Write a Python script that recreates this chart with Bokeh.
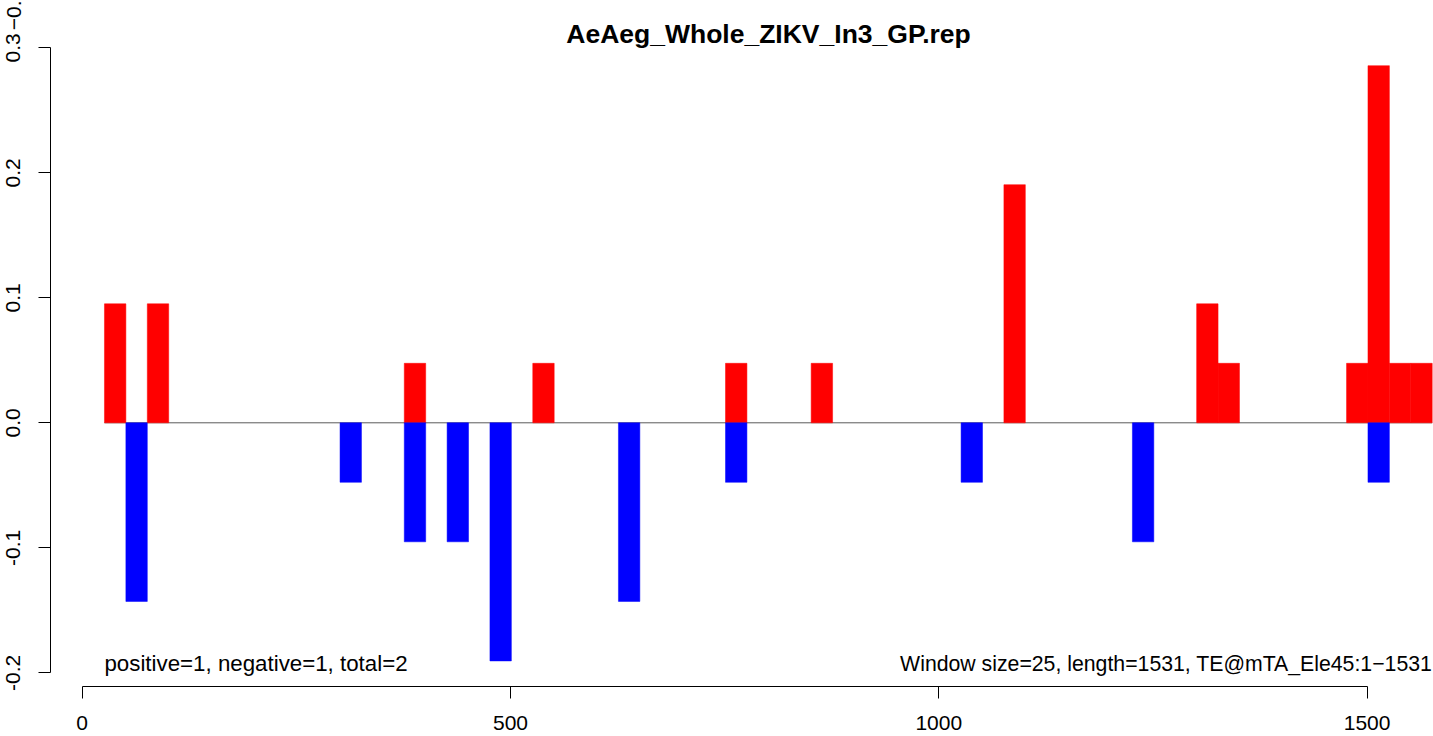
from bokeh.plotting import figure
from bokeh.models import Range1d, FixedTicker, Label, ColumnDataSource, LinearAxis
from bokeh.embed import file_html
from bokeh.resources import INLINE

# ---- data ----
window_size = 25
pos_starts = [26, 76, 376, 526, 751, 851, 1076, 1301, 1326, 1476, 1501, 1526, 1551]
pos_values = [0.0952, 0.0952, 0.0476, 0.0476, 0.0476, 0.0476, 0.1905, 0.0952, 0.0476, 0.0476, 0.2857, 0.0476, 0.0476]
neg_starts = [51, 301, 376, 426, 476, 626, 751, 1026, 1226, 1501]
neg_values = [-0.1429, -0.0476, -0.0952, -0.0952, -0.1905, -0.1429, -0.0476, -0.0476, -0.0952, -0.0476]
line_start = 26
line_end = 1576
x_ticks = [0, 500, 1000, 1500]
y_ticks = [-0.2, -0.1, 0.0, 0.1, 0.2, 0.3]
y_tick_labels = ["-0.2", "-0.1", "0.0", "0.1", "0.2", "0.3"]
stray_tick = 0.3266          # fragment of a label cut off at the top edge
stray_label = "\u22120."
title_text = "AeAeg_Whole_ZIKV_In3_GP.rep"
left_note = "positive=1, negative=1, total=2"
right_note = "Window size=25, length=1531, TE@mTA_Ele45:1\u22121531"

FONT = "Liberation Sans"

p = figure(width=1433, height=736, output_backend="svg", toolbar_location=None,
           x_range=Range1d(-37.0, 1577.5), y_range=Range1d(-0.21096, 0.33784),
           min_border_left=50, min_border_right=0, min_border_top=0, min_border_bottom=50)
p.outline_line_color = None
p.grid.visible = False
p.background_fill_color = "white"
p.border_fill_color = "white"

pos_src = ColumnDataSource(dict(left=pos_starts,
                                right=[s + window_size for s in pos_starts],
                                top=pos_values, bottom=[0] * len(pos_values)))
neg_src = ColumnDataSource(dict(left=neg_starts,
                                right=[s + window_size for s in neg_starts],
                                top=[0] * len(neg_values), bottom=neg_values))

p.segment(x0=[line_start], y0=[0], x1=[line_end], y1=[0], line_color="#5a5a5a", line_width=1)
p.quad(left="left", right="right", top="top", bottom="bottom", source=pos_src,
       fill_color="#FF0000", line_color="#FF0000", line_width=0.5)
p.quad(left="left", right="right", top="top", bottom="bottom", source=neg_src,
       fill_color="#0000FF", line_color="#0000FF", line_width=0.5)

# x axis
xa = p.xaxis[0]
xa.ticker = FixedTicker(ticks=x_ticks)
xa.bounds = (0, 1500)
xa.major_tick_out = 12
xa.major_tick_in = 0
xa.minor_tick_out = 0
xa.minor_tick_in = 0
xa.major_label_standoff = 17
xa.major_label_text_font = FONT
xa.major_label_text_font_size = "21px"
xa.major_label_text_color = "black"
xa.axis_line_color = "black"
xa.major_tick_line_color = "black"

# inner y axis: line and tick marks only
ya = p.yaxis[0]
ya.ticker = FixedTicker(ticks=y_ticks)
ya.bounds = (-0.2, 0.3)
ya.major_tick_out = 12
ya.major_tick_in = 0
ya.minor_tick_out = 0
ya.minor_tick_in = 0
ya.major_label_standoff = 0
ya.major_label_text_font_size = "0px"
ya.major_label_text_color = None
ya.axis_line_color = "black"
ya.major_tick_line_color = "black"

# outer y axis: the tick labels (plus the cut-off fragment at the top)
overrides = {t: l for t, l in zip(y_ticks, y_tick_labels)}
overrides[stray_tick] = stray_label
yl = LinearAxis(ticker=FixedTicker(ticks=y_ticks + [stray_tick]))
yl.major_label_overrides = overrides
yl.major_label_orientation = "vertical"
yl.axis_line_color = None
yl.major_tick_line_color = None
yl.minor_tick_line_color = None
yl.major_tick_out = 0
yl.major_tick_in = 0
yl.minor_tick_out = 0
yl.minor_tick_in = 0
yl.major_label_standoff = 18
yl.major_label_text_font = FONT
yl.major_label_text_font_size = "21px"
yl.major_label_text_color = "black"
p.add_layout(yl, "left")

# title and notes
p.add_layout(Label(x=801.2, y=0.31104, text=title_text, text_font=FONT, text_font_style="bold",
                   text_font_size="26.5px", text_align="center", text_baseline="alphabetic",
                   text_color="black"))
p.add_layout(Label(x=26, y=-0.19256, text=left_note, text_font=FONT, text_font_size="22.3px",
                   text_align="left", text_baseline="alphabetic", text_color="black"))
p.add_layout(Label(x=1576, y=-0.19256, text=right_note, text_font=FONT, text_font_size="21.25px",
                   text_align="right", text_baseline="alphabetic", text_color="black"))

open("out.html", "w").write(file_html(p, INLINE))
